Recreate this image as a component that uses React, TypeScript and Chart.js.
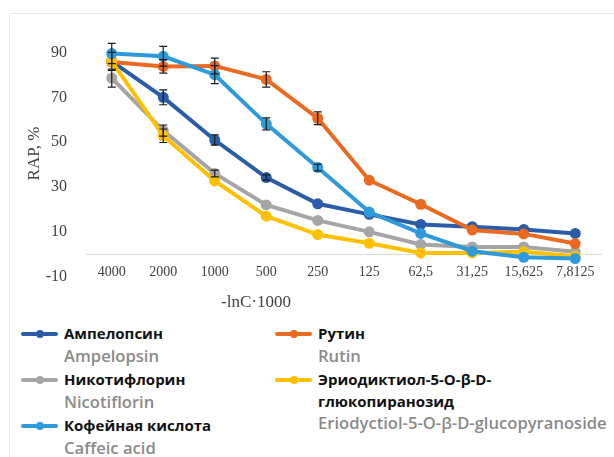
import React, { useEffect, useRef } from "react";
import { Chart, registerables } from "chart.js";

Chart.register(...registerables);

const categories = ["4000", "2000", "1000", "500", "250", "125", "62,5", "31,25", "15,625", "7,8125"];
const yTicks = [-10, 10, 30, 50, 70, 90];

const ampelopsin = [86, 70, 51, 34.3, 22.6, 17.9, 13.4, 12.4, 11.2, 9.4];
const ampelopsinErr = [4, 3.3, 2.3, 1.2, 0, 0, 0, 0, 0, 0];
const rutin = [85.7, 83.8, 84, 78, 60.7, 33.1, 22.4, 10.9, 9.2, 4.9];
const rutinErr = [0, 3, 3.5, 3.4, 2.8, 0, 0, 0, 0, 0];
const nicotiflorin = [78.6, 55.2, 36.1, 22.1, 15.2, 10.1, 4.5, 3.4, 3.4, 1.2];
const nicotiflorinErr = [4, 2.5, 1.5, 0, 0, 0, 0, 0, 0, 0];
const caffeic = [89.5, 88.3, 80.1, 58.2, 38.8, 18.9, 9.4, 1.5, -1.2, -1.8];
const caffeicErr = [4.5, 4.4, 4, 2.7, 1.5, 0, 0, 0, 0, 0];
const eriodictyol = [86, 52.9, 32.8, 17.1, 8.9, 5.0, 0.7, 0.7, 1.2, -0.8];
const eriodictyolErr = [0, 3, 0, 0, 0, 0, 0, 0, 0, 0];

const seriesRu = ["Ампелопсин", "Рутин", "Никотифлорин", "Эриодиктиол-5-O-β-D-глюкопиранозид", "Кофейная кислота"];
const seriesEn = ["Ampelopsin", "Rutin", "Nicotiflorin", "Eriodyctiol-5-O-β-D-glucopyranoside", "Caffeic acid"];
const colors = ["#2b5ca8", "#ea6a22", "#a5a5a5", "#ffc000", "#2f9ad9"];

const yTitle = "RAP, %";
const xTitle = "-lnC·1000";

const errorBarPlugin = {
  id: "errorBars",
  afterDatasetsDraw(chart: any) {
    const ctx = chart.ctx;
    const yScale = chart.scales.y;
    ctx.save();
    ctx.strokeStyle = "#1a1a1a";
    ctx.lineWidth = 1.2;
    chart.data.datasets.forEach((ds: any, i: number) => {
      const meta = chart.getDatasetMeta(i);
      const errs: number[] = ds.errors || [];
      meta.data.forEach((pt: any, j: number) => {
        const e = errs[j];
        if (!e) return;
        const v = ds.data[j];
        const x = pt.x;
        const yTop = yScale.getPixelForValue(v + e);
        const yBot = yScale.getPixelForValue(v - e);
        ctx.beginPath();
        ctx.moveTo(x, yTop);
        ctx.lineTo(x, yBot);
        ctx.moveTo(x - 4, yTop);
        ctx.lineTo(x + 4, yTop);
        ctx.moveTo(x - 4, yBot);
        ctx.lineTo(x + 4, yBot);
        ctx.stroke();
      });
    });
    ctx.restore();
  },
};

const xTitlePlugin = {
  id: "xTitleCustom",
  afterDraw(chart: any) {
    const ctx = chart.ctx;
    const area = chart.chartArea;
    ctx.save();
    ctx.font = '17px "Liberation Serif"';
    ctx.fillStyle = "#404040";
    ctx.textAlign = "center";
    ctx.textBaseline = "middle";
    ctx.fillText(xTitle, area.left + (area.right - area.left) * 0.33, area.bottom + 26);
    ctx.restore();
  },
};

function LegendIcon({ color }: { color: string }) {
  return (
    <div style={{ position: "relative", width: 37, height: 10, flex: "0 0 auto" }}>
      <div style={{ position: "absolute", left: 0, right: 0, top: 3.5, height: 3.5, background: color, borderRadius: 2 }} />
      <div style={{ position: "absolute", left: 14.5, top: 1.5, width: 8, height: 8, borderRadius: 4, background: color }} />
    </div>
  );
}

function LegendItem({ idx, ruLines }: { idx: number; ruLines?: string[] }) {
  const lines = ruLines || [seriesRu[idx]];
  return (
    <div style={{ marginBottom: 3 }}>
      {lines.map((l, k) => (
        <div key={k} style={{ display: "flex", alignItems: "center", height: 21.5 }}>
          <div style={{ width: 43, flex: "0 0 auto" }}>{k === 0 ? <LegendIcon color={colors[idx]} /> : null}</div>
          <span style={{ fontWeight: 700, color: "#111" }}>{l}</span>
        </div>
      ))}
      <div
        style={{
          height: 21.5,
          lineHeight: "21.5px",
          paddingLeft: 43,
          color: "#8a8a8a",
          fontWeight: 600,
          fontSize: 16.6,
          whiteSpace: "nowrap",
        }}
      >
        {seriesEn[idx]}
      </div>
    </div>
  );
}

export default function App() {
  const canvasRef = useRef<HTMLCanvasElement | null>(null);

  useEffect(() => {
    if (!canvasRef.current) return;
    const mk = (label: string, data: number[], errors: number[], color: string, order: number) => ({
      label,
      data,
      errors,
      borderColor: color,
      backgroundColor: color,
      pointBackgroundColor: color,
      pointBorderColor: color,
      pointBorderWidth: 0,
      pointRadius: 5.5,
      borderWidth: 4,
      tension: 0,
      order,
    });
    const chart = new Chart(canvasRef.current, {
      type: "line",
      data: {
        labels: categories,
        datasets: [
          mk(seriesEn[0], ampelopsin, ampelopsinErr, colors[0], 4),
          mk(seriesEn[1], rutin, rutinErr, colors[1], 2),
          mk(seriesEn[2], nicotiflorin, nicotiflorinErr, colors[2], 3),
          mk(seriesEn[3], eriodictyol, eriodictyolErr, colors[3], 1),
          mk(seriesEn[4], caffeic, caffeicErr, colors[4], 0),
        ] as any,
      },
      options: {
        responsive: false,
        animation: false,
        layout: { padding: { left: 0, right: 13, top: 30, bottom: 38 } },
        plugins: {
          legend: { display: false },
          tooltip: { enabled: false },
        },
        scales: {
          x: {
            position: { y: 0 } as any,
            offset: true,
            grid: { display: false, drawTicks: false, offset: true },
            border: { display: true, color: "#d9d9d9", width: 1 },
            ticks: {
              color: "#404040",
              font: { family: "Liberation Serif", size: 14 },
              padding: 9,
              maxRotation: 0,
              autoSkip: false,
            },
          },
          y: {
            min: -10,
            max: 100,
            grid: { display: false, drawTicks: false },
            border: { display: false },
            afterBuildTicks: (scale: any) => {
              scale.ticks = yTicks.map((v) => ({ value: v }));
            },
            afterFit: (scale: any) => {
              scale.width = 86;
            },
            ticks: {
              color: "#404040",
              font: { family: "Liberation Serif", size: 16 },
              padding: 19,
            },
            title: {
              display: true,
              text: yTitle,
              color: "#404040",
              font: { family: "Liberation Serif", size: 17 },
              padding: { top: 24, bottom: 0 },
            },
          },
        },
      },
      plugins: [errorBarPlugin, xTitlePlugin],
    });
    return () => chart.destroy();
  }, []);

  return (
    <div style={{ position: "absolute", left: 0, top: 0, width: 614, height: 457, overflow: "hidden", background: "#fff" }}>
      <div style={{ position: "absolute", left: 9, top: 13, width: 700, height: 600, border: "1px solid #e1e5e9" }} />
      <canvas ref={canvasRef} width={614} height={315} style={{ position: "absolute", left: 0, top: 0, width: 614, height: 315 }} />
      <div
        style={{
          position: "absolute",
          left: 21,
          top: 323,
          fontFamily: '"Open Sans", sans-serif',
          fontSize: 15,
          lineHeight: "21.5px",
        }}
      >
        <LegendItem idx={0} />
        <LegendItem idx={2} />
        <LegendItem idx={4} />
      </div>
      <div
        style={{
          position: "absolute",
          left: 275,
          top: 323,
          fontFamily: '"Open Sans", sans-serif',
          fontSize: 15,
          lineHeight: "21.5px",
        }}
      >
        <LegendItem idx={1} />
        <LegendItem idx={3} ruLines={["Эриодиктиол-5-O-β-D-", "глюкопиранозид"]} />
      </div>
    </div>
  );
}
